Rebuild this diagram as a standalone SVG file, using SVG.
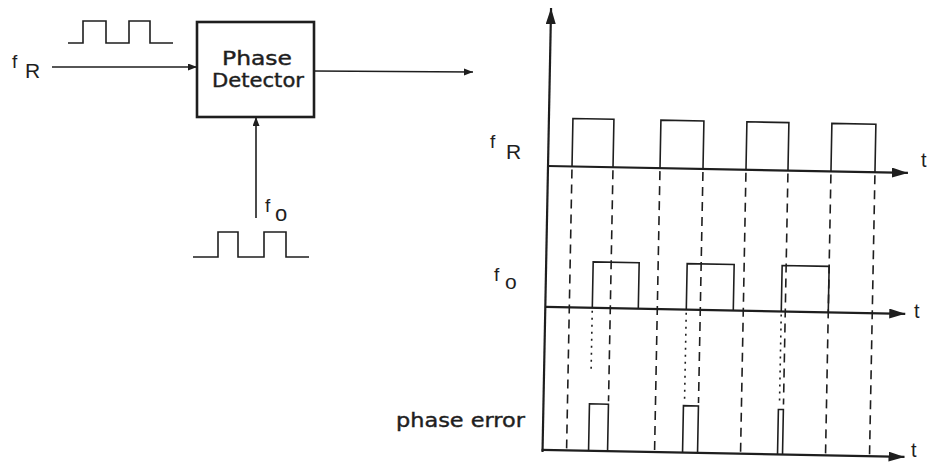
<svg xmlns="http://www.w3.org/2000/svg" width="929" height="463" viewBox="0 0 929 463">
<style>
.ln{fill:none;stroke:#1e1e1e;stroke-width:1.6}
.ax{fill:none;stroke:#1e1e1e;stroke-width:2.2}
.box{fill:#fff;stroke:#1e1e1e;stroke-width:2.6}
.ds{fill:none;stroke:#1e1e1e;stroke-width:1.6;stroke-dasharray:9 6}
.dt{fill:none;stroke:#1e1e1e;stroke-width:1.6;stroke-dasharray:2 5}
.tx{font-family:"Liberation Sans",Arial,sans-serif;fill:#1e1e1e}
.lb{font-family:"DejaVu Sans","Liberation Sans",sans-serif;fill:#1e1e1e;stroke:#1e1e1e;stroke-width:0.4}
</style>
<defs>
<marker id="a1" markerUnits="userSpaceOnUse" markerWidth="10" markerHeight="8" refX="9" refY="3.5" orient="auto"><path d="M0,0 L9,3.5 L0,7 z" fill="#1e1e1e"/></marker>
<marker id="a2" markerUnits="userSpaceOnUse" markerWidth="18" markerHeight="11" refX="16" refY="5" orient="auto"><path d="M0,0 L16,5 L0,10 z" fill="#1e1e1e"/></marker>
</defs>
<rect width="929" height="463" fill="#fff"/>

<g id="input-fR">
<path class="ln" d="M68,43 H83 V21 H106 V43 H129 V21 H150 V43 H173"/>
<text class="tx" x="12" y="68" font-size="19">f</text>
<text class="tx" x="25" y="78" font-size="21">R</text>
</g>

<g id="phase-detector">
<rect class="box" x="197" y="22" width="117" height="95"/>
<text class="lb" x="257" y="65" font-size="19" text-anchor="middle" textLength="70" lengthAdjust="spacingAndGlyphs">Phase</text>
<text class="lb" x="258" y="87" font-size="19" text-anchor="middle" textLength="92" lengthAdjust="spacingAndGlyphs">Detector</text>
</g>

<g id="input-fo">
<path class="ln" d="M193,257 H218 V232 H238 V257 H264 V232 H286 V257 H309"/>
<text class="tx" x="265" y="212" font-size="19">f</text>
<text class="tx" x="275" y="221" font-size="22">o</text>
</g>

<g id="connectors">
<line class="ln" x1="52" y1="67" x2="197" y2="67" marker-end="url(#a1)"/>
<line class="ln" x1="256" y1="218" x2="256" y2="117" marker-end="url(#a1)"/>
<line class="ln" x1="314" y1="71" x2="473" y2="72" marker-end="url(#a1)"/>
</g>

<g id="timing-chart" transform="rotate(1.1 549 167)">
<g id="axes">
<line class="ax" x1="548" y1="452" x2="548" y2="8" marker-end="url(#a2)"/>
<line class="ax" x1="548" y1="166" x2="908" y2="166" marker-end="url(#a2)"/>
<line class="ax" x1="548" y1="307" x2="908" y2="307" marker-end="url(#a2)"/>
<line class="ax" x1="547" y1="450" x2="910" y2="450" marker-end="url(#a2)"/>
</g>
<g id="fR-wave">
<path class="ln" d="M572,166 V118 H613 V166 M660,166 V118 H703 V166 M746,166 V118 H788 V166 M831,166 V118 H875 V166"/>
</g>
<g id="fo-wave">
<path class="ln" d="M595,307 V261 H641 V307 M689,307 V261 H736 V307 M784,307 V261 H831 V307"/>
</g>
<g id="phase-error-wave">
<path class="ln" d="M594,450 V403 H613 V450 M688,450 V403 H703 V450 M783,450 V405 H788 V450"/>
</g>
<g id="guides">
<path class="ds" d="M572,169 V449 M660,169 V449 M746,169 V449 M831,169 V449 M875,169 V449 M613,169 V400 M703,169 V400 M788,169 V400"/>
<path class="dt" d="M595,310 V372 M689,310 V396 M784,310 V398"/>
</g>
</g>

<g id="labels">
<text class="tx" x="490" y="148" font-size="19">f</text>
<text class="tx" x="506" y="159" font-size="21">R</text>
<text class="tx" x="494" y="281" font-size="19">f</text>
<text class="tx" x="505" y="289" font-size="21">o</text>
<text class="tx" x="921" y="167" font-size="20">t</text>
<text class="tx" x="914" y="318" font-size="20">t</text>
<text class="tx" x="911" y="457" font-size="20">t</text>
<text class="lb" x="396" y="427" font-size="19" textLength="129" lengthAdjust="spacingAndGlyphs">phase error</text>
</g>
</svg>
